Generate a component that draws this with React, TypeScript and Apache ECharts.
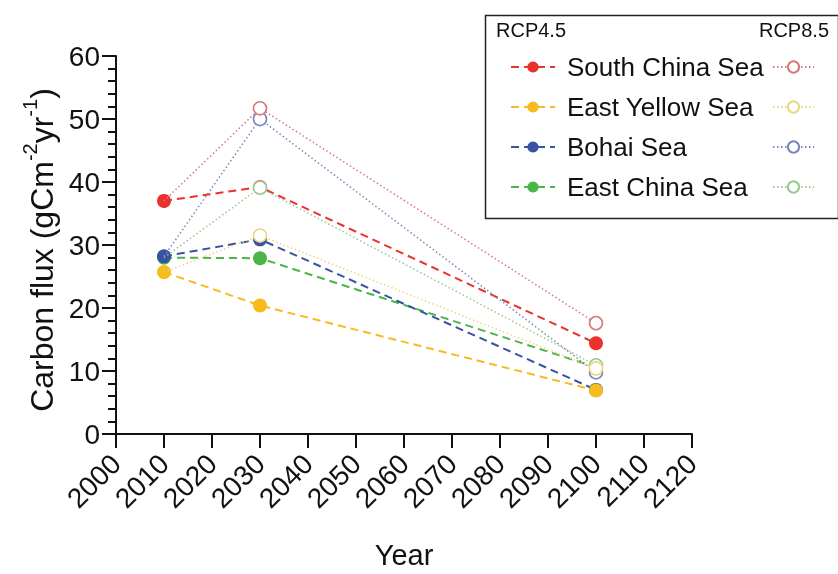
import React, { useEffect, useRef } from "react";
import * as echarts from "echarts";

const years = [2010, 2030, 2100];
const seas = ["South China Sea", "East Yellow Sea", "Bohai Sea", "East China Sea"];
const rcp45SouthChina = [37.0, 39.2, 14.4];
const rcp45EastYellow = [25.7, 20.4, 6.9];
const rcp45Bohai = [28.2, 30.9, 7.0];
const rcp45EastChina = [28.0, 27.9, 10.6];
const rcp85SouthChina = [37.0, 51.7, 17.6];
const rcp85EastYellow = [25.7, 31.5, 10.4];
const rcp85Bohai = [28.2, 50.0, 9.8];
const rcp85EastChina = [28.0, 39.1, 10.9];
const xTicks = { min: 2000, max: 2120, step: 10 };
const yTicks = { min: 0, max: 60, step: 10 };

const strong = ["#e8322b", "#f7bb1b", "#3853a4", "#4bb648"];
const light = ["#d9787b", "#ecd585", "#7b87bb", "#98c98b"];

const FONT = "'Liberation Sans', Arial, Helvetica, sans-serif";

export default function App() {
  const ref = useRef<HTMLDivElement>(null);
  useEffect(() => {
    if (!ref.current) return;
    const chart = echarts.init(ref.current, null, { renderer: "svg" });
    const r45 = [rcp45SouthChina, rcp45EastYellow, rcp45Bohai, rcp45EastChina];
    const r85 = [rcp85SouthChina, rcp85EastYellow, rcp85Bohai, rcp85EastChina];
    const drawOrder = [3, 2, 1, 0];
    const series: any[] = [];
    drawOrder.forEach((i) => {
      series.push({
        name: seas[i],
        type: "line",
        data: years.map((y, k) => [y, r45[i][k]]),
        symbol: "circle",
        symbolSize: 14,
        z: 3,
        itemStyle: { color: strong[i] },
        lineStyle: { color: strong[i], width: 2, type: [8, 5] },
      });
    });
    drawOrder.forEach((i) => {
      series.push({
        name: seas[i] + " (RCP8.5)",
        type: "line",
        data: years.map((y, k) =>
          k === 0 ? { value: [y, r85[i][k]], symbol: "none" } : [y, r85[i][k]]
        ),
        symbol: "circle",
        symbolSize: 13,
        z: 4,
        itemStyle: { color: "#ffffff", borderColor: light[i], borderWidth: 1.6 },
        lineStyle: { color: light[i], width: 1.5, type: [1.5, 2.5] },
      });
    });
    chart.setOption({
      animation: false,
      textStyle: { fontFamily: FONT },
      grid: { left: 116, right: 146, top: 56, bottom: 134, containLabel: false },
      xAxis: {
        type: "value",
        min: xTicks.min,
        max: xTicks.max,
        interval: xTicks.step,
        name: "Year",
        nameLocation: "middle",
        nameGap: 106,
        nameTextStyle: { fontSize: 29, color: "#111", fontFamily: FONT },
        axisLine: { lineStyle: { color: "#111", width: 2 } },
        axisTick: { length: 14, lineStyle: { color: "#111", width: 2 } },
        axisLabel: {
          rotate: 45,
          fontSize: 28,
          color: "#111",
          margin: 25,
          fontFamily: FONT,
          formatter: (v: number) => String(v),
        },
        splitLine: { show: false },
      },
      yAxis: {
        type: "value",
        min: yTicks.min,
        max: yTicks.max,
        interval: yTicks.step,
        name: "{n|Carbon flux (gCm}{s|-2}{n|yr}{s|-1}{n|)}",
        nameLocation: "middle",
        nameGap: 58,
        nameRotate: 90,
        nameTextStyle: {
          padding: [0, 10, 0, 0],
          rich: {
            n: { fontSize: 32, color: "#111", fontFamily: FONT, lineHeight: 38, verticalAlign: "bottom" },
            s: { fontSize: 20, color: "#111", fontFamily: FONT, lineHeight: 38, verticalAlign: "top" },
          },
        },
        axisLine: { lineStyle: { color: "#111", width: 2 } },
        axisTick: { length: 14, lineStyle: { color: "#111", width: 2 } },
        minorTick: { show: true, splitNumber: 5, length: 8, lineStyle: { color: "#111", width: 2 } },
        axisLabel: { fontSize: 28, color: "#111", margin: 16, fontFamily: FONT },
        splitLine: { show: false },
        minorSplitLine: { show: false },
      },
      legend: [
        {
          data: seas,
          orient: "vertical",
          left: 505,
          top: 48,
          itemWidth: 44,
          itemHeight: 14,
          itemGap: 12,
          textStyle: { fontSize: 26, color: "#111", lineHeight: 28, fontFamily: FONT, padding: [0, 0, 0, 7] },
          selectedMode: false,
        },
        {
          data: seas.map((s) => s + " (RCP8.5)"),
          orient: "vertical",
          left: 767,
          top: 48,
          itemWidth: 41,
          itemHeight: 14,
          itemGap: 12,
          formatter: () => " ",
          textStyle: { fontSize: 26, color: "#111", lineHeight: 28, fontFamily: FONT },
          selectedMode: false,
        },
      ],
      graphic: [
        {
          type: "rect",
          left: 483,
          top: 13,
          shape: { width: 353, height: 203 },
          style: { fill: "none", stroke: "#222", lineWidth: 1.5 },
          z: 0,
        },
        {
          type: "text",
          left: 496,
          top: 20,
          style: { text: "RCP4.5", fontSize: 20, fill: "#111", fontFamily: FONT },
        },
        {
          type: "text",
          right: 9,
          top: 20,
          style: { text: "RCP8.5", fontSize: 20, fill: "#111", fontFamily: FONT },
        },
      ],
      series,
    });
    return () => chart.dispose();
  }, []);
  return (
    <div
      ref={ref}
      style={{ position: "fixed", left: 0, top: 0, width: 838, height: 574 }}
    />
  );
}
